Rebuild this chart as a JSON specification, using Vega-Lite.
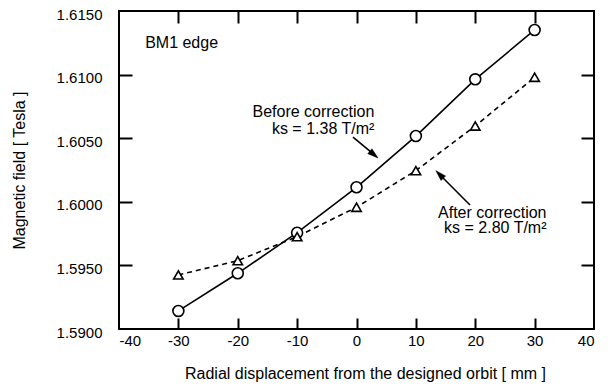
{
  "$schema": "https://vega.github.io/schema/vega-lite/v6.json",
  "autosize": "none",
  "width": 475,
  "height": 318,
  "padding": {"left": 119, "top": 11, "right": 14, "bottom": 57},
  "background": "white",
  "config": {
    "view": {"stroke": "black", "strokeWidth": 2},
    "font": "Liberation Sans",
    "axis": {
      "labelFont": "Liberation Sans",
      "titleFont": "Liberation Sans",
      "labelColor": "black",
      "titleColor": "black",
      "tickColor": "black",
      "grid": false,
      "domain": false,
      "labelFontSize": 15,
      "titleFontSize": 16,
      "titleFontWeight": "normal",
      "tickWidth": 2
    }
  },
  "datasets": {
    "pts": [
      {"x": -30, "y": 1.59142, "s": "Before"},
      {"x": -20, "y": 1.59438, "s": "Before"},
      {"x": -10, "y": 1.59757, "s": "Before"},
      {"x": 0, "y": 1.60114, "s": "Before"},
      {"x": 10, "y": 1.60517, "s": "Before"},
      {"x": 20, "y": 1.60963, "s": "Before"},
      {"x": 30, "y": 1.61351, "s": "Before"},
      {"x": -30, "y": 1.59425, "s": "After"},
      {"x": -20, "y": 1.59537, "s": "After"},
      {"x": -10, "y": 1.59726, "s": "After"},
      {"x": 0, "y": 1.59957, "s": "After"},
      {"x": 10, "y": 1.60245, "s": "After"},
      {"x": 20, "y": 1.60596, "s": "After"},
      {"x": 30, "y": 1.60979, "s": "After"}
    ],
    "notesL": [
      {"x": -35.6, "y": 1.61248, "t": "BM1 edge"}
    ],
    "notesB": [
      {"x": 3.0, "y": 1.60706, "t": "Before correction\nks = 1.38 T/m²"}
    ],
    "notesA": [
      {"x": 32.0, "y": 1.59914, "t": "After correction\nks = 2.80 T/m²"}
    ],
    "arrows": [
      {"x": -0.59, "y": 1.60509, "x2": 2.71, "y2": 1.6038, "ang": 130},
      {"x": 19.12, "y": 1.59975, "x2": 14.2, "y2": 1.60205, "ang": 316}
    ]
  },
  "resolve": {"axis": {"x": "independent", "y": "independent"}},
  "layer": [
    {
      "data": {"name": "pts"},
      "transform": [{"filter": "datum.s === 'Before'"}],
      "mark": {"type": "line", "color": "black", "strokeWidth": 1.6},
      "encoding": {
        "x": {
          "field": "x", "type": "quantitative",
          "scale": {"domain": [-40, 40], "nice": false, "zero": false},
          "axis": {
            "orient": "bottom",
            "title": "Radial displacement from the designed orbit [ mm ]",
            "values": [-40, -30, -20, -10, 0, 10, 20, 30, 40],
            "labelExpr": "datum.value + ''",
            "ticks": false,
            "labelPadding": 4,
            "titlePadding": 17,
            "titleX": 246
          }
        },
        "y": {
          "field": "y", "type": "quantitative",
          "scale": {"domain": [1.59, 1.615], "nice": false, "zero": false},
          "axis": {
            "orient": "left",
            "title": "Magnetic field [ Tesla ]",
            "values": [1.59, 1.595, 1.6, 1.605, 1.61, 1.615],
            "format": ".4f",
            "ticks": false,
            "labelPadding": 17,
            "labelOffset": 3,
            "titlePadding": 29
          }
        }
      }
    },
    {
      "data": {"name": "pts"},
      "transform": [{"filter": "datum.s === 'After'"}],
      "mark": {"type": "line", "color": "black", "strokeWidth": 1.6, "strokeDash": [5, 4]},
      "encoding": {
        "x": {
          "field": "x", "type": "quantitative",
          "axis": {"orient": "bottom", "title": null, "labels": false, "values": [-30, -20, -10, 0, 10, 20, 30], "tickSize": -11}
        },
        "y": {
          "field": "y", "type": "quantitative",
          "axis": {"orient": "left", "title": null, "labels": false, "values": [1.595, 1.6, 1.605, 1.61], "tickSize": -13}
        }
      }
    },
    {
      "data": {"name": "pts"},
      "transform": [{"filter": "datum.s === 'Before'"}],
      "mark": {"type": "point", "shape": "circle", "size": 120, "filled": true, "fill": "white", "stroke": "black", "strokeWidth": 1.6, "opacity": 1},
      "encoding": {
        "x": {"field": "x", "type": "quantitative", "axis": null},
        "y": {"field": "y", "type": "quantitative", "axis": null}
      }
    },
    {
      "data": {"name": "pts"},
      "transform": [{"filter": "datum.s === 'After'"}],
      "mark": {"type": "point", "shape": "triangle-up", "size": 90, "filled": true, "fill": "white", "stroke": "black", "strokeWidth": 1.6, "opacity": 1},
      "encoding": {
        "x": {"field": "x", "type": "quantitative", "axis": null},
        "y": {"field": "y", "type": "quantitative", "axis": null}
      }
    },
    {
      "data": {"name": "arrows"},
      "mark": {"type": "rule", "color": "black", "strokeWidth": 1.6},
      "encoding": {
        "x": {"field": "x", "type": "quantitative", "axis": null},
        "y": {"field": "y", "type": "quantitative", "axis": null},
        "x2": {"field": "x2"},
        "y2": {"field": "y2"}
      }
    },
    {
      "data": {"name": "arrows"},
      "mark": {"type": "point", "shape": "M0,-1L0.45,0.5L-0.45,0.5Z", "size": 200, "filled": true, "fill": "black", "stroke": "black", "strokeWidth": 0.5, "opacity": 1},
      "encoding": {
        "x": {"field": "x2", "type": "quantitative", "axis": null},
        "y": {"field": "y2", "type": "quantitative", "axis": null},
        "angle": {"field": "ang", "type": "quantitative", "scale": null}
      }
    },
    {
      "data": {"name": "notesL"},
      "mark": {"type": "text", "font": "Liberation Sans", "fontSize": 16, "color": "black", "baseline": "middle", "align": "left"},
      "encoding": {
        "x": {"field": "x", "type": "quantitative", "axis": null},
        "y": {"field": "y", "type": "quantitative", "axis": null},
        "text": {"field": "t"}
      }
    },
    {
      "data": {"name": "notesB"},
      "mark": {"type": "text", "font": "Liberation Sans", "fontSize": 16, "color": "black", "baseline": "middle", "align": "right", "lineBreak": "\n", "lineHeight": 17},
      "encoding": {
        "x": {"field": "x", "type": "quantitative", "axis": null},
        "y": {"field": "y", "type": "quantitative", "axis": null},
        "text": {"field": "t"}
      }
    },
    {
      "data": {"name": "notesA"},
      "mark": {"type": "text", "font": "Liberation Sans", "fontSize": 16, "color": "black", "baseline": "middle", "align": "right", "lineBreak": "\n", "lineHeight": 15},
      "encoding": {
        "x": {"field": "x", "type": "quantitative", "axis": null},
        "y": {"field": "y", "type": "quantitative", "axis": null},
        "text": {"field": "t"}
      }
    },
    {
      "data": {"name": "pts"},
      "mark": {"type": "point", "opacity": 0},
      "encoding": {
        "x": {
          "field": "x", "type": "quantitative",
          "axis": {"orient": "top", "title": null, "labels": false, "values": [-30, -20, -10, 0, 10, 20, 30], "tickSize": -12}
        },
        "y": {
          "field": "y", "type": "quantitative",
          "axis": {"orient": "right", "title": null, "labels": false, "values": [1.595, 1.6, 1.605, 1.61], "tickSize": -13}
        }
      }
    }
  ]
}
